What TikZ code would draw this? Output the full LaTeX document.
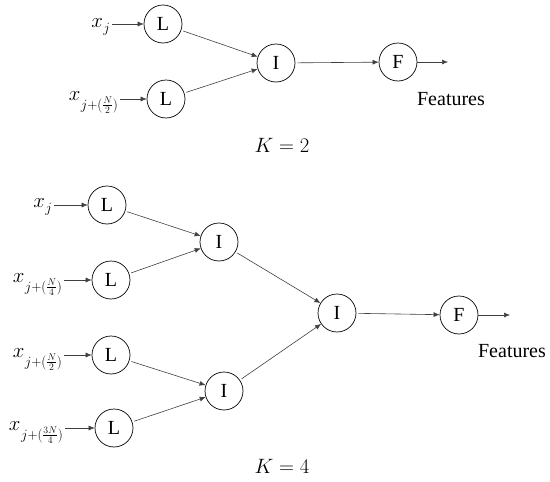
\documentclass[tikz,border=0pt]{standalone}
\usepackage{fontspec}
\setmainfont{Liberation Serif}
\usetikzlibrary{arrows.meta}
\newcommand{\xsubscr}[2]{$x$\kern0.5pt\raisebox{#1}{\scalebox{0.68}{$#2$}}}
\begin{document}
\begin{tikzpicture}[x=1pt,y=-1pt,
  every node/.style={font=\fontsize{20}{24}\selectfont},
  unit/.style={draw=black,line width=0.7pt,circle,minimum size=38pt,inner sep=0pt},
  arr/.style={draw=black!75,line width=0.6pt,-{Latex[length=6pt,width=5pt]},shorten <=2pt},
  lab/.style={anchor=base east,inner sep=0pt}]
\useasboundingbox (0,0) rectangle (550,482);
% ---------- K = 2 ----------
\node[unit] (tL1) at (163,24) {L};
\node[unit] (tL2) at (166,99) {L};
\node[unit] (tI) at (276,63) {I};
\node[unit] (tF) at (398,62) {F};
\node[lab] (tx1) at (110,27) {\xsubscr{-5pt}{j}};
\node[lab] (tx2) at (118,100) {\xsubscr{-9pt}{j{+}(\frac{N}{2})}};
\coordinate (tout) at (448,62);
\node (tfeat) at (451,99) {Features};
\node (tK) at (282,145) {$K=2$};
\draw[arr] (tx1.base east |- tL1) -- (tL1);
\draw[arr] (tx2.base east |- tL2) -- (tL2);
\draw[arr] (tL1) -- (tI);
\draw[arr] (tL2) -- (tI);
\draw[arr] (tI) -- (tF);
\draw[arr,shorten <=0pt] (tF) -- (tout);
% ---------- K = 4 ----------
\node[unit] (L1) at (107,205) {L};
\node[unit] (L2) at (111,280) {L};
\node[unit] (L3) at (111,355) {L};
\node[unit] (L4) at (114,428) {L};
\node[unit] (I1) at (219,242) {I};
\node[unit] (I2) at (224,391) {I};
\node[unit] (I3) at (337,313) {I};
\node[unit] (F) at (459,315) {F};
\node[lab] (x1) at (52,207) {\xsubscr{-5pt}{j}};
\node[lab] (x2) at (62,282) {\xsubscr{-9pt}{j{+}(\frac{N}{4})}};
\node[lab] (x3) at (62,357) {\xsubscr{-9pt}{j{+}(\frac{N}{2})}};
\node[lab] (x4) at (63,430) {\xsubscr{-9pt}{j{+}(\frac{3N}{4})}};
\coordinate (out) at (510,315);
\node (feat) at (512,351) {Features};
\node (K) at (282,466) {$K=4$};
\draw[arr] (x1.base east |- L1) -- (L1);
\draw[arr] (x2.base east |- L2) -- (L2);
\draw[arr] (x3.base east |- L3) -- (L3);
\draw[arr] (x4.base east |- L4) -- (L4);
\draw[arr] (L1) -- (I1);
\draw[arr] (L2) -- (I1);
\draw[arr] (L3) -- (I2);
\draw[arr] (L4) -- (I2);
\draw[arr] (I1) -- (I3);
\draw[arr] (I2) -- (I3);
\draw[arr] (I3) -- (F);
\draw[arr,shorten <=0pt] (F) -- (out);
\end{tikzpicture}
\end{document}
